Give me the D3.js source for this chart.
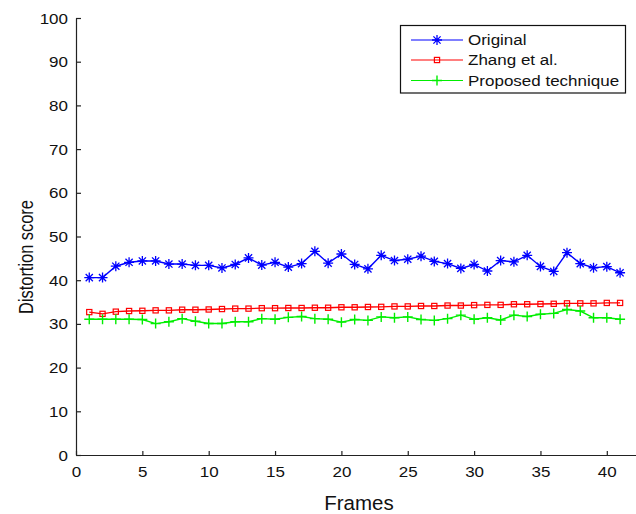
<!DOCTYPE html>
<html>
<head>
<meta charset="utf-8">
<script src="https://cdn.jsdelivr.net/npm/d3@7"></script>
<style>
  html, body { margin: 0; padding: 0; background: #fff; }
  svg { display: block; font-family: "Liberation Sans", Arial, Helvetica, sans-serif; }
</style>
</head>
<body>
<svg id="chart" width="636" height="514"></svg>
<script>
// Frame indices 1..41
const frames = d3.range(1, 42);

// Distortion score per frame for each method
const original = [40.6, 40.6, 43.2, 44.1, 44.4, 44.4, 43.7, 43.7, 43.4, 43.4,
  42.8, 43.6, 45.1, 43.45, 44.1, 43.0, 43.8, 46.6, 43.9, 46.0,
  43.6, 42.6, 45.7, 44.5, 44.8, 45.5, 44.3, 43.8, 42.7, 43.6,
  42.1, 44.5, 44.2, 45.7, 43.15, 42.0, 46.3, 43.8, 42.85, 43.1, 41.7];
const zhang = [32.7, 32.3, 32.8, 32.95, 33.0, 33.1, 33.1, 33.25, 33.25, 33.3,
  33.4, 33.5, 33.5, 33.6, 33.6, 33.64, 33.64, 33.7, 33.7, 33.8,
  33.8, 33.87, 33.9, 34.0, 34.0, 34.1, 34.1, 34.2, 34.2, 34.3,
  34.35, 34.35, 34.5, 34.5, 34.55, 34.6, 34.7, 34.7, 34.7, 34.8, 34.8];
const proposed = [31.05, 31.05, 31.05, 31.05, 31.0, 30.07, 30.5, 31.2, 30.6, 30.1,
  30.1, 30.5, 30.5, 31.2, 31.05, 31.5, 31.7, 31.2, 31.05, 30.4,
  31.0, 30.8, 31.6, 31.4, 31.6, 31.0, 30.8, 31.2, 32.0, 31.05,
  31.4, 30.9, 32.0, 31.7, 32.2, 32.4, 33.3, 32.95, 31.4, 31.4, 31.05];

const seriesNames = ["Original", "Zhang et al.", "Proposed technique"];
const xTicks = [0, 5, 10, 15, 20, 25, 30, 35, 40];
const yTicks = [0, 10, 20, 30, 40, 50, 60, 70, 80, 90, 100];

const series = [
  { name: seriesNames[0], values: original, color: "#0000ff", marker: "star" },
  { name: seriesNames[1], values: zhang, color: "#ff0000", marker: "square" },
  { name: seriesNames[2], values: proposed, color: "#00ee00", marker: "plus" }
];

const svg = d3.select("#chart");
const W = 636;

const x = d3.scaleLinear().domain([0, 42.2]).range([76, 636]);
const y = d3.scaleLinear().domain([0, 100]).range([455, 18]);

const axisColor = "#222";
const vScale = 0.85; // text drawn slightly flattened

// y axis
const gy = svg.append("g").attr("transform", `translate(${x(0)},0)`)
  .call(d3.axisLeft(y).tickValues(yTicks).tickSizeInner(-5).tickSizeOuter(0).tickPadding(8));
gy.select(".domain").attr("stroke", axisColor).attr("stroke-width", 1.2);
gy.selectAll(".tick line").attr("stroke", axisColor).attr("stroke-width", 1.2);
gy.selectAll(".tick text")
  .attr("font-size", 17).attr("fill", "#111")
  .attr("font-family", "'Liberation Sans', Arial, sans-serif")
  .attr("x", null).attr("dy", null)
  .attr("dominant-baseline", "central")
  .attr("transform", `translate(-8,0) scale(1,${vScale})`);

// x axis
const gx = svg.append("g").attr("transform", `translate(0,${y(0)})`)
  .call(d3.axisBottom(x).tickValues(xTicks).tickSizeInner(-4).tickSizeOuter(0).tickPadding(8));
gx.select(".domain").attr("stroke", axisColor).attr("stroke-width", 1.2);
gx.selectAll(".tick line").attr("stroke", axisColor).attr("stroke-width", 1.2);
gx.selectAll(".tick text")
  .attr("font-size", 17).attr("fill", "#111")
  .attr("font-family", "'Liberation Sans', Arial, sans-serif")
  .attr("y", null).attr("dy", null)
  .attr("transform", `translate(0,22) scale(1,${vScale})`);

// axis titles
svg.append("text")
  .attr("transform", `translate(359,510) scale(1,0.95)`)
  .attr("text-anchor", "middle").attr("font-size", 20.5).attr("fill", "#111")
  .text("Frames");
svg.append("text")
  .attr("transform", `translate(33,257) scale(1,0.8) rotate(-90)`)
  .attr("text-anchor", "middle").attr("font-size", 20.5).attr("fill", "#111")
  .text("Distortion score");

// marker drawing
function drawMarker(g, type, color) {
  if (type === "star") {
    const r = 5, d = 3.6;
    g.append("path")
      .attr("d", `M${-r},0L${r},0M0,${-r}L0,${r}M${-d},${-d}L${d},${d}M${-d},${d}L${d},${-d}`)
      .attr("stroke", color).attr("stroke-width", 1.3).attr("fill", "none");
  } else if (type === "square") {
    g.append("rect").attr("x", -2.6).attr("y", -2.6).attr("width", 5.2).attr("height", 5.2)
      .attr("stroke", color).attr("stroke-width", 1.2).attr("fill", "none");
  } else {
    const r = 5;
    g.append("path")
      .attr("d", `M${-r},0L${r},0M0,${-r}L0,${r}`)
      .attr("stroke", color).attr("stroke-width", 1.4).attr("fill", "none");
  }
}

const line = d3.line().x((d, i) => x(frames[i])).y(d => y(d));

series.forEach(s => {
  const g = svg.append("g");
  g.append("path").datum(s.values)
    .attr("d", line).attr("fill", "none")
    .attr("stroke", s.color).attr("stroke-width", 1.4);
  g.selectAll("g.m").data(s.values).enter().append("g")
    .attr("transform", (d, i) => `translate(${x(frames[i])},${y(d)})`)
    .each(function () { drawMarker(d3.select(this), s.marker, s.color); });
});

// legend
const lg = svg.append("g");
lg.append("rect").attr("x", 400.5).attr("y", 25.5).attr("width", 225).attr("height", 67.5)
  .attr("fill", "#fff").attr("stroke", "#111").attr("stroke-width", 1.2);
const rowY = [40, 60, 80.5];
series.forEach((s, i) => {
  const row = lg.append("g").attr("transform", `translate(0,${rowY[i]})`);
  row.append("line").attr("x1", 411).attr("x2", 463).attr("y1", 0).attr("y2", 0)
    .attr("stroke", s.color).attr("stroke-width", 1.2);
  drawMarker(row.append("g").attr("transform", "translate(437,0)"), s.marker, s.color);
  row.append("text")
    .attr("transform", `translate(468,0) scale(1,${vScale})`)
    .attr("dominant-baseline", "central")
    .attr("font-size", 17).attr("fill", "#111")
    .text(s.name);
});
</script>
</body>
</html>
